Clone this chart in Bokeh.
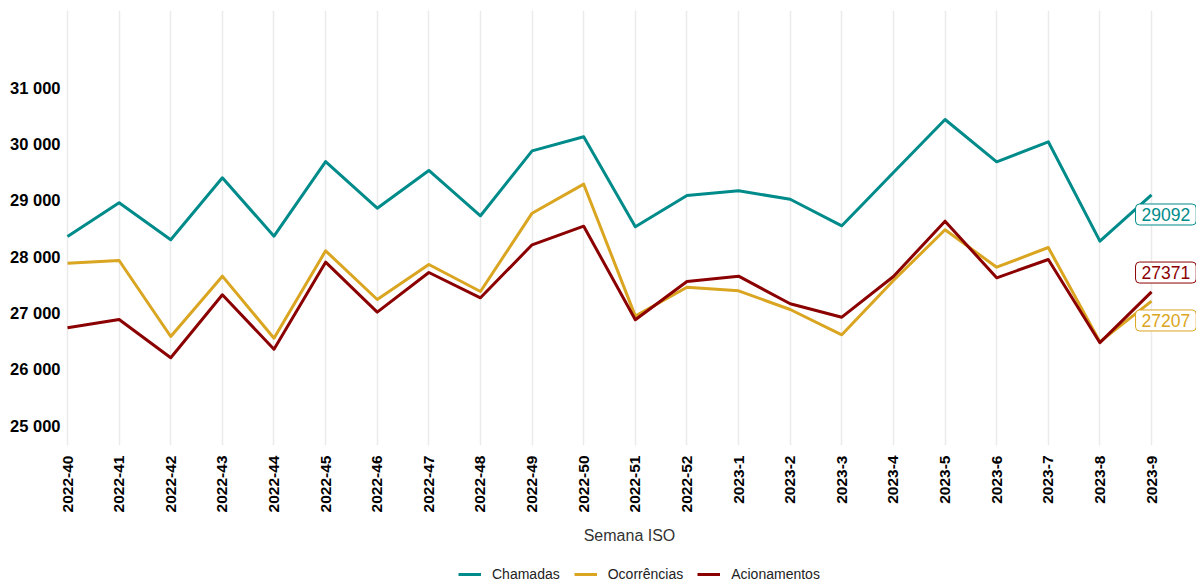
import math
from bokeh.plotting import figure
from bokeh.layouts import column
from bokeh.models import Range1d, FixedTicker, Label, Legend, LegendItem
from bokeh.embed import file_html
from bokeh.resources import INLINE

weeks = ["2022-40", "2022-41", "2022-42", "2022-43", "2022-44", "2022-45", "2022-46",
         "2022-47", "2022-48", "2022-49", "2022-50", "2022-51", "2022-52", "2023-1",
         "2023-2", "2023-3", "2023-4", "2023-5", "2023-6", "2023-7", "2023-8", "2023-9"]

chamadas = [28355, 28953, 28297, 29397, 28360, 29686, 28858, 29527, 28723, 29876, 30125,
            28527, 29083, 29166, 29017, 28545, 29491, 30432, 29681, 30036, 28272, 29092]
ocorrencias = [27881, 27929, 26580, 27651, 26550, 28101, 27237, 27858, 27379, 28769, 29284,
               26941, 27455, 27391, 27059, 26610, 27574, 28474, 27810, 28160, 26485, 27207]
acionamentos = [26735, 26882, 26202, 27320, 26355, 27899, 27012, 27716, 27267, 28208, 28538,
                26877, 27556, 27651, 27161, 26923, 27645, 28627, 27622, 27947, 26470, 27371]

series_names = ["Chamadas", "Ocorrências", "Acionamentos"]
series_values = [chamadas, ocorrencias, acionamentos]
series_colors = ["#008B8B", "#DAA520", "#8B0000"]
label_offsets = [-19.5, -19.3, 19.4]

y_ticks = [25000, 26000, 27000, 28000, 29000, 30000, 31000]

x = list(range(len(weeks)))
FONT = "Liberation Sans"

p = figure(width=1196, height=555, output_backend="svg", toolbar_location=None,
           x_range=Range1d(-0.097, 21.871), y_range=Range1d(24645, 32367),
           min_border_left=62, min_border_right=0, min_border_top=10, min_border_bottom=110)
p.outline_line_color = None
p.background_fill_color = "white"
p.border_fill_color = "white"

for name, vals, col in zip(series_names, series_values, series_colors):
    p.line(x, vals, line_width=3, line_color=col, line_join="round")

# grid
p.ygrid.grid_line_color = None
p.xgrid.ticker = FixedTicker(ticks=x)
p.xgrid.grid_line_color = "#ebebeb"
p.xgrid.grid_line_width = 1.5

# x axis
p.xaxis.ticker = FixedTicker(ticks=x)
p.xaxis.major_label_overrides = {i: w for i, w in enumerate(weeks)}
p.xaxis.major_label_orientation = math.pi / 2
p.xaxis.axis_line_color = None
p.xaxis.major_tick_line_color = None
p.xaxis.minor_tick_line_color = None
p.xaxis.major_tick_out = 0
p.xaxis.major_tick_in = 0
p.xaxis.minor_tick_out = 0
p.xaxis.major_label_standoff = 10
p.xaxis.major_label_text_font = FONT
p.xaxis.major_label_text_font_style = "bold"
p.xaxis.major_label_text_font_size = "15.5px"
p.xaxis.major_label_text_color = "black"
p.xaxis.axis_label = "Semana ISO"
p.xaxis.axis_label_text_font = FONT
p.xaxis.axis_label_text_font_style = "normal"
p.xaxis.axis_label_text_font_size = "16px"
p.xaxis.axis_label_text_color = "#333333"
p.xaxis.axis_label_standoff = 12

# y axis
p.yaxis.ticker = FixedTicker(ticks=y_ticks)
p.yaxis.major_label_overrides = {t: f"{t:,}".replace(",", " ") for t in y_ticks}
p.yaxis.axis_line_color = None
p.yaxis.major_tick_line_color = None
p.yaxis.minor_tick_line_color = None
p.yaxis.major_tick_out = 0
p.yaxis.major_tick_in = 0
p.yaxis.minor_tick_out = 0
p.yaxis.major_label_standoff = 2
p.yaxis.major_label_text_font = FONT
p.yaxis.major_label_text_font_style = "bold"
p.yaxis.major_label_text_font_size = "16.5px"
p.yaxis.major_label_text_color = "black"

# end labels
for vals, col, off in zip(series_values, series_colors, label_offsets):
    p.add_layout(Label(x=x[-1], y=vals[-1], x_offset=-16, y_offset=off,
                       text=str(vals[-1]), text_align="left", text_baseline="middle",
                       text_color=col, text_font=FONT, text_font_size="17.5px",
                       background_fill_color="white", border_line_color=col,
                       border_line_width=1, padding=(6, 4), border_radius=4))

# legend strip (separate figure below the chart; its lines lie outside its view)
leg_fig = figure(width=1196, height=28, output_backend="svg", toolbar_location=None,
                 x_range=Range1d(-10, -9), y_range=Range1d(0, 1),
                 x_axis_type=None, y_axis_type=None,
                 min_border_left=0, min_border_right=0, min_border_top=0, min_border_bottom=0)
leg_fig.outline_line_color = None
leg_fig.grid.visible = False
items = []
for name, vals, col in zip(series_names, series_values, series_colors):
    r = leg_fig.line(x, vals, line_width=3, line_color=col)
    items.append(LegendItem(label=name, renderers=[r]))
lg = Legend(items=items, orientation="horizontal", location=(396, 1))
lg.border_line_color = None
lg.background_fill_alpha = 0
lg.padding = 0
lg.margin = 0
lg.spacing = 14
lg.glyph_width = 23
lg.glyph_height = 14
lg.label_height = 14
lg.label_standoff = 11
lg.label_text_font = FONT
lg.label_text_font_size = "14px"
lg.label_text_color = "#222222"
leg_fig.add_layout(lg, "center")

layout = column(p, leg_fig, spacing=0)
open("out.html", "w").write(file_html(layout, INLINE))
